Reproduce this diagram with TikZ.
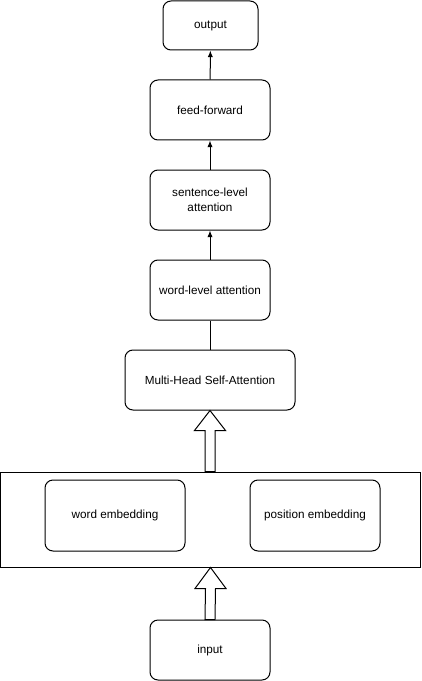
\documentclass[tikz,border=0pt]{standalone}
\usepackage{fontspec}
\setmainfont{Liberation Sans}
\usepackage{tikz}
\usetikzlibrary{calc,arrows.meta}

\begin{document}
\begin{tikzpicture}[x=0.75pt, y=-0.75pt,
  blockbox/.style={draw=black, line width=0.75pt, rounded corners=6pt, fill=white,
    align=center, font=\fontsize{8.8}{11}\selectfont, inner sep=0pt},
  flowline/.style={draw=black, line width=0.75pt},
  hollowarrow/.style={draw=black, line width=0.75pt, fill=white, line join=miter}]

\useasboundingbox (0,0) rectangle (421,681);

% top stack
\path
(210.5,25.5) node[blockbox, minimum width=71.25pt, minimum height=36.75pt] (output) {output}
(210,110) node[blockbox, minimum width=90pt, minimum height=45pt] (ffwd) {feed-forward}
(210,200) node[blockbox, minimum width=90pt, minimum height=45pt] (sentatt) {sentence-level\\attention}
(210,290) node[blockbox, minimum width=90pt, minimum height=45pt] (wordatt) {word-level attention}
(210,380) node[blockbox, minimum width=127.5pt, minimum height=45pt] (mhsa) {Multi-Head Self-Attention};

\draw[flowline, -{Latex[length=5pt,width=4pt]}] (ffwd) -- (output);
\draw[flowline, -{Latex[length=5pt,width=4pt]}] (sentatt) -- (ffwd);
\draw[flowline, -{Latex[length=5pt,width=4pt]}] (wordatt) -- (sentatt);
\draw[flowline] (wordatt) -- (mhsa);



% embedding layer
\path
(210.5,519.5) node[draw=black, line width=0.75pt, minimum width=315pt, minimum height=71.25pt, inner sep=0pt] (embed) {}
(115,515.5) node[blockbox, minimum width=105pt, minimum height=53.25pt] (wordemb) {word embedding}
(315,515.5) node[blockbox, minimum width=97.5pt, minimum height=53.25pt] (posemb) {position embedding}
(210,650) node[blockbox, minimum width=90pt, minimum height=45pt] (input) {input};

\filldraw[hollowarrow] (mhsa.south) -- ++(15.5,20) -- ++(-10.5,0) -- ($(embed.north)+(4.5,0)$)
  -- ($(embed.north)+(-5.5,0)$) -- ($(mhsa.south)+(-5,20)$) -- ++(-10.5,0) -- cycle;

\filldraw[hollowarrow] (embed.south) -- ++(15.5,21) -- ++(-10.5,0) -- ($(input.north)+(5,0)$)
  -- ($(input.north)+(-5,0)$) -- ($(embed.south)+(-5,21)$) -- ++(-10.5,0) -- cycle;



\end{tikzpicture}
\end{document}
